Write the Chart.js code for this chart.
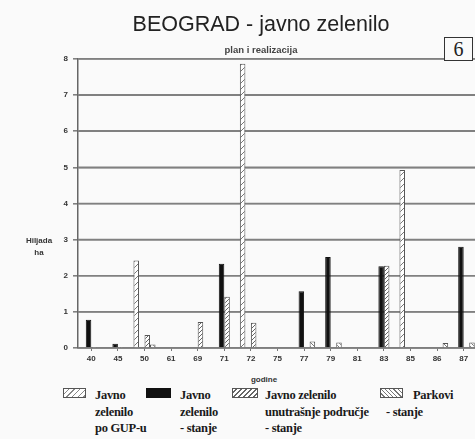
<!DOCTYPE html>
<html>
<head>
<meta charset="utf-8">
<script src="https://cdn.jsdelivr.net/npm/chart.js@4/dist/chart.umd.min.js"></script>
<style>
  html, body { margin:0; padding:0; background:#fafafa; width:475px; height:439px; overflow:hidden; position:relative; }
  #c { position:absolute; left:0; top:0; }
  .t { position:absolute; white-space:nowrap; color:#222; }
  #title { font-family:"Liberation Sans", Arial, sans-serif; font-size:21.5px; line-height:21.5px; left:261px; top:14px; transform:translateX(-50%); color:#222; }
  #sub { font-family:"Liberation Sans", Arial, sans-serif; font-size:9.5px; font-weight:bold; line-height:10px; left:261px; top:45px; transform:translateX(-50%); color:#444; }
  #six { position:absolute; left:444px; top:37px; width:27px; height:22px; border:1.5px solid #333; font-family:"Liberation Serif", serif; font-size:20px; line-height:22px; text-align:center; color:#222; background:#fafafa; }
  #ytitle { font-family:"Liberation Sans", Arial, sans-serif; font-size:8px; font-weight:bold; line-height:12px; left:39px; top:235px; transform:translateX(-50%); text-align:center; color:#333; }
  #xtitle { font-family:"Liberation Sans", Arial, sans-serif; font-size:8px; font-weight:bold; line-height:8px; left:264px; top:376px; transform:translateX(-50%); color:#333; }
  .lt { font-family:"Liberation Serif", serif; font-size:12.5px; line-height:16.5px; top:387px; color:#1a1a1a; font-weight:bold; letter-spacing:-0.3px; }
  .box { position:absolute; top:388px; height:8px; border:1px solid #555; }
</style>
</head>
<body>
<canvas id="c" width="480" height="372" style="width:480px;height:372px"></canvas>
<div id="title" class="t">BEOGRAD - javno zelenilo</div>
<div id="sub" class="t">plan i realizacija</div>
<div id="six">6</div>
<div id="ytitle" class="t">Hiljada<br>ha</div>
<div id="xtitle" class="t">godine</div>

<div class="box" style="left:63px;width:21px;background:repeating-linear-gradient(135deg,#fff 0 3px,#888 3px 4px);"></div>
<div class="t lt" style="left:95px;">Javno<br>zelenilo<br>po GUP-u</div>
<div class="box" style="left:146px;width:23px;background:#111;border-color:#111;"></div>
<div class="t lt" style="left:180px;">Javno<br>zelenilo<br>- stanje</div>
<div class="box" style="left:232px;width:24px;background:repeating-linear-gradient(135deg,#fff 0 2px,#666 2px 3.5px);"></div>
<div class="t lt" style="left:265px;">Javno zelenilo<br>unutrašnje područje<br>- stanje</div>
<div class="box" style="left:380px;width:21px;background:repeating-linear-gradient(45deg,#fff 0 2px,#777 2px 3px);"></div>
<div class="t lt" style="left:413px;">Parkovi</div>
<div class="t lt" style="left:386px;top:403.5px;">- stanje</div>

<script>
const years = ['40','45','50','61','69','71','72','75','77','79','81','83','85','86','87'];
const planGUP   = [0,    0,    2.42, 0, 0,    0,    7.87, 0, 0,    0,    0, 0,    4.93, 0,    0];
const stanje    = [0.78, 0.12, 0,    0, 0,    2.33, 0,    0, 1.57, 2.52, 0, 2.26, 0,    0,    2.80];
const unutrasnje= [0.03, 0.03, 0.36, 0, 0.72, 1.42, 0.70, 0, 0,    0,    0, 2.28, 0,    0,    0];
const parkovi   = [0,    0,    0.10, 0, 0,    0,    0,    0, 0.18, 0.15, 0, 0,    0,    0.14, 0.15];
const yMin = 0, yMax = 8, yStep = 1;

function hatch(dir, s, color, lw) {
  const c = document.createElement('canvas'); c.width = s; c.height = s;
  const g = c.getContext('2d');
  g.fillStyle = '#fff'; g.fillRect(0,0,s,s);
  g.strokeStyle = color; g.lineWidth = lw; g.beginPath();
  if (dir > 0) {
    g.moveTo(0,s); g.lineTo(s,0); g.moveTo(-2,2); g.lineTo(2,-2); g.moveTo(s-2,s+2); g.lineTo(s+2,s-2);
  } else {
    g.moveTo(0,0); g.lineTo(s,s); g.moveTo(s-2,-2); g.lineTo(s+2,2); g.moveTo(-2,s-2); g.lineTo(2,s+2);
  }
  g.stroke();
  return g.createPattern(c, 'repeat');
}

const pGUP = hatch(1, 6, '#777', 1);
const pUn  = hatch(1, 4, '#666', 1);
const pPk  = hatch(-1, 4, '#777', 1);

// draws the y-scale gridlines (positions from the library's own y scale)
const gridPlugin = {
  id: 'hgrid',
  beforeDatasetsDraw(chart) {
    const { ctx, chartArea, scales } = chart;
    const y = scales.y;
    ctx.save();
    ctx.strokeStyle = '#808080';
    ctx.lineWidth = 1.6;
    y.ticks.forEach(t => {
      const py = y.getPixelForValue(t.value);
      ctx.beginPath(); ctx.moveTo(chartArea.left, py); ctx.lineTo(chartArea.right, py); ctx.stroke();
    });
    ctx.restore();
  }
};

const common = { categoryPercentage: 0.83, barPercentage: 1.0, borderWidth: 1 };

new Chart(document.getElementById('c'), {
  type: 'bar',
  data: {
    labels: years,
    datasets: [
      Object.assign({ label: 'Javno zelenilo po GUP-u', data: planGUP, backgroundColor: pGUP, borderColor: '#555' }, common),
      Object.assign({ label: 'Javno zelenilo - stanje', data: stanje, backgroundColor: '#111', borderColor: '#111' }, common),
      Object.assign({ label: 'Javno zelenilo unutrašnje područje - stanje', data: unutrasnje, backgroundColor: pUn, borderColor: '#555' }, common),
      Object.assign({ label: 'Parkovi - stanje', data: parkovi, backgroundColor: pPk, borderColor: '#555' }, common)
    ]
  },
  options: {
    responsive: false,
    animation: false,
    layout: { padding: { top: 59, right: 3, left: 0, bottom: 0 } },
    plugins: { legend: { display: false }, tooltip: { enabled: false }, title: { display: false } },
    scales: {
      x: {
        afterFit: (a) => { a.height = 24; },
        grid: { drawOnChartArea: false, drawTicks: true, tickLength: 3, color: '#777', lineWidth: 1, offset: false },
        border: { display: true, color: '#777', width: 1.5 },
        ticks: { color: '#333', padding: 3, font: { family: 'Liberation Sans', size: 8, weight: 'bold' }, maxRotation: 0, autoSkip: false }
      },
      y: {
        min: yMin, max: yMax,
        afterFit: (a) => { a.width = 78; },
        grid: { color: '#808080', lineWidth: 1.6, tickLength: 5 },
        border: { display: true, color: '#666', width: 1.5 },
        ticks: { stepSize: yStep, color: '#333', padding: 5, font: { family: 'Liberation Sans', size: 8, weight: 'bold' } }
      }
    }
  },
  plugins: [gridPlugin]
});
</script>
</body>
</html>
